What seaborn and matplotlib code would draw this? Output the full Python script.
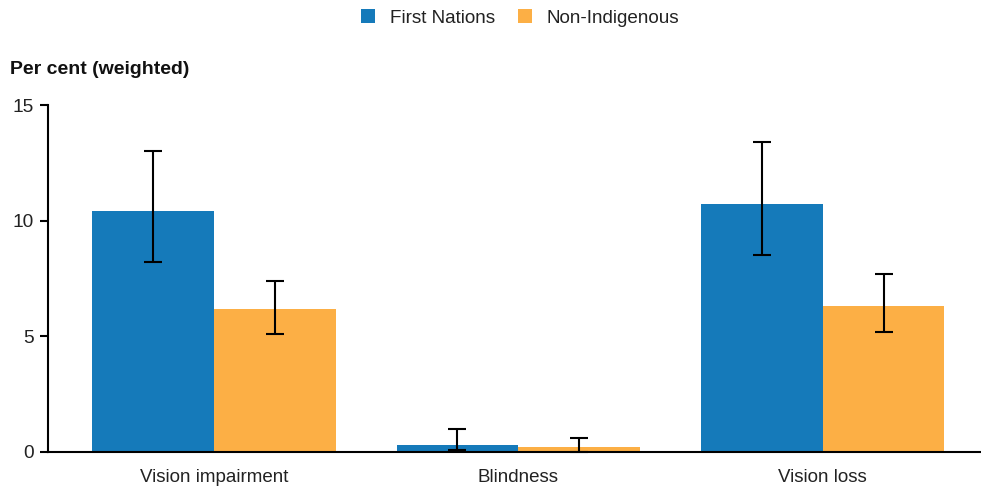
import matplotlib
matplotlib.use("Agg")
import matplotlib.pyplot as plt
import seaborn as sns
import pandas as pd
import numpy as np
from matplotlib.patches import Patch

categories = ["Vision impairment", "Blindness", "Vision loss"]
groups = ["First Nations", "Non-Indigenous"]
first_nations = [10.4, 0.3, 10.7]
fn_lower = [8.2, 0.1, 8.5]
fn_upper = [13.0, 1.0, 13.4]
non_indigenous = [6.2, 0.2, 6.3]
ni_lower = [5.1, 0.0, 5.2]
ni_upper = [7.4, 0.6, 7.7]
yticks = [0, 5, 10, 15]

colors = ["#157ABA", "#FCAF45"]

sns.set_theme(style="white")
plt.rcParams["font.family"] = ["Liberation Sans", "DejaVu Sans"]

df = pd.DataFrame({
    "category": categories * 2,
    "group": [groups[0]] * 3 + [groups[1]] * 3,
    "value": first_nations + non_indigenous,
})

fig = plt.figure(figsize=(9.81, 4.88), dpi=100)
ax = fig.add_axes([48 / 981, 1 - 452 / 488, 1 - 48 / 981, (452 - 105) / 488])

sns.barplot(data=df, x="category", y="value", hue="group", order=categories,
            hue_order=groups, palette=colors, width=0.8, errorbar=None,
            saturation=1, ax=ax, legend=False, linewidth=0)

vals = [first_nations, non_indigenous]
lows = [fn_lower, ni_lower]
highs = [fn_upper, ni_upper]
for cont, v, lo, hi in zip(ax.containers, vals, lows, highs):
    xs = [p.get_x() + p.get_width() / 2 for p in cont.patches]
    v = np.array(v); lo = np.array(lo); hi = np.array(hi)
    ax.errorbar(xs, v, yerr=[v - lo, hi - v], fmt="none", ecolor="black",
                elinewidth=1.5, capsize=6.5, capthick=1.5, zorder=5,
                clip_on=False)

ax.set_xlim(-0.545, 2.52)
ax.set_ylim(0, 15)
ax.set_yticks(yticks)
ax.set_yticklabels([str(t) for t in yticks])
ax.set_xlabel("")
ax.set_ylabel("")
for s in ["top", "right"]:
    ax.spines[s].set_visible(False)
for s in ["left", "bottom"]:
    ax.spines[s].set_color("black")
    ax.spines[s].set_linewidth(1.5)
ax.tick_params(axis="y", length=6, width=1.5, color="black", labelsize=13.8,
               labelcolor="#222222", pad=4, left=True)
ax.tick_params(axis="x", length=0, labelsize=13.5, labelcolor="#222222", pad=12)

fig.text(10 / 981, 1 - 69 / 488, "Per cent (weighted)", fontsize=14,
         fontweight="bold", color="#111111", va="center", ha="left")

handles = [Patch(facecolor=c, edgecolor="none") for c in colors]
fig.legend(handles, groups, loc="center", bbox_to_anchor=(520 / 981, 1 - 18 / 488),
           ncol=2, frameon=False, fontsize=13.6, handlelength=0.75, handleheight=0.75,
           handletextpad=0.8, columnspacing=1.2, labelcolor="#222222")

fig.savefig("out.png", dpi=100)
